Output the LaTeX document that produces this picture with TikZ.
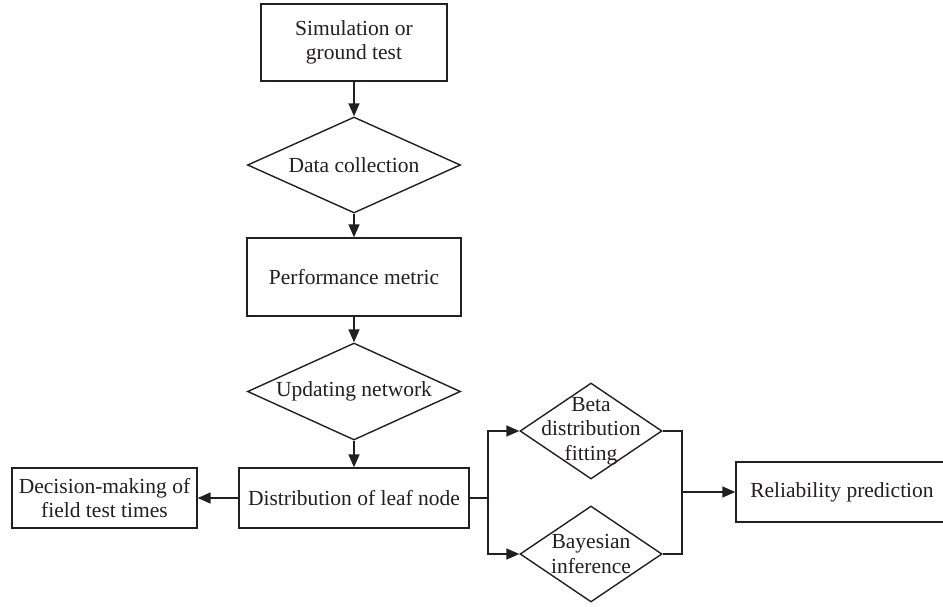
\documentclass[tikz,border=0pt]{standalone}
\usepackage{fontspec}
\setmainfont{Liberation Serif}
\usetikzlibrary{shapes.geometric,arrows.meta}
\definecolor{ink}{RGB}{35,31,32}
\begin{document}
\begin{tikzpicture}[x=1pt,y=-1pt,
  every node/.style={font=\fontsize{21.5}{24.5}\selectfont, text=ink},
  process/.style={draw=ink, line width=1.4pt, rectangle, inner sep=0pt, align=center},
  decision/.style={draw=ink, line width=1.4pt, diamond, inner sep=0pt},
  link/.style={draw=ink, line width=1.5pt},
  arr/.style={link, -{Triangle[length=13pt,width=11pt]}}]
  \clip (0,0) rectangle (943,606);
  \fill[white] (0,0) rectangle (943,606);

  % main column
  \node[process, minimum width=186pt, minimum height=77pt] (sim) at (354,42.5) {Simulation or\\ground test};
  \node[decision, minimum width=213pt, minimum height=96pt,
        label={center:Data collection}] (data) at (354,165) {};
  \node[process, minimum width=214pt, minimum height=78pt] (perf) at (354,277) {Performance metric};
  \node[decision, minimum width=213pt, minimum height=97pt,
        label={center:Updating network}] (update) at (354,391.5) {};
  \node[process, minimum width=230pt, minimum height=60pt] (dist) at (354,498) {Distribution of leaf node};
  \node[process, minimum width=185pt, minimum height=60pt] (dec) at (104.5,498) {Decision-making of\\field test times};

  % parallel branch
  \node[decision, minimum width=142pt, minimum height=96pt,
        label={[align=center]center:Beta\\distribution\\fitting}] (beta) at (591,431) {};
  \node[decision, minimum width=142pt, minimum height=96pt,
        label={[align=center]center:Bayesian\\inference}] (bayes) at (591,554) {};
  \node[process, minimum width=212pt, minimum height=60pt] (rel) at (842,492) {Reliability prediction};

  \coordinate (split) at (488,498);
  \coordinate (merge) at (682,492);

  % connectors
  \draw[arr] (sim.south) -- (data.north);
  \draw[arr] (data.south) -- (perf.north);
  \draw[arr] (perf.south) -- (update.north);
  \draw[arr] (update.south) -- (dist.north);
  \draw[arr] (dist.west) -- (dec.east);
  \draw[link] (dist.east) -- (split);
  \draw[arr] (split) |- (beta.west);
  \draw[arr] (split) |- (bayes.west);
  \draw[link] (beta.east) -| (merge);
  \draw[link] (bayes.east) -| (merge);
  \draw[arr] (merge) -- (rel.west);
\end{tikzpicture}
\end{document}
